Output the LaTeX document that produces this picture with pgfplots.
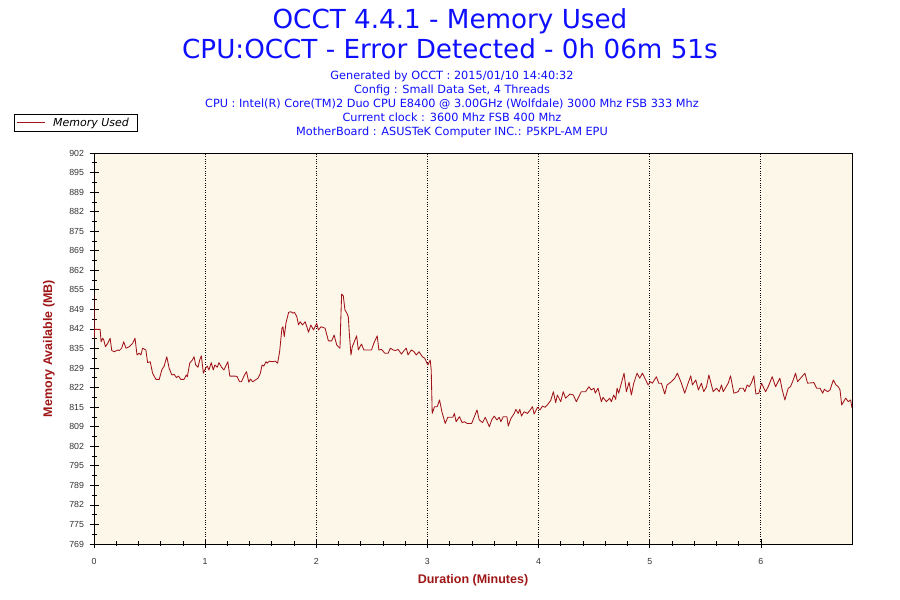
\documentclass[border=0pt]{standalone}
\usepackage{fontspec}
\setmainfont{DejaVu Sans}
\newfontfamily\lib{Liberation Sans}
\usepackage{pgfplots}
\pgfplotsset{compat=1.18}
\usepackage{pgfplotstable}
\definecolor{ttlblue}{RGB}{15,15,255}
\definecolor{lblred}{RGB}{158,22,22}
\definecolor{linered}{RGB}{160,20,25}
\definecolor{plotbg}{RGB}{253,247,234}
\pgfplotstableread{
m v
0.000 854.0
0.002 839.0
0.005 842.0
0.055 842.0
0.064 837.8
0.079 839.0
0.088 838.4
0.103 836.1
0.124 837.3
0.145 839.0
0.160 834.8
0.184 834.4
0.213 835.0
0.228 834.8
0.249 835.6
0.267 837.8
0.288 835.6
0.318 836.1
0.348 837.3
0.369 839.0
0.387 833.3
0.407 833.9
0.422 833.3
0.437 835.6
0.467 835.0
0.482 830.7
0.506 831.0
0.527 827.1
0.557 825.0
0.587 825.0
0.610 828.2
0.631 829.5
0.655 832.7
0.676 828.8
0.700 826.5
0.721 826.7
0.742 825.6
0.760 826.1
0.781 825.0
0.810 825.0
0.831 826.5
0.840 825.9
0.861 830.5
0.885 831.6
0.900 832.7
0.915 829.9
0.936 829.1
0.951 831.6
0.966 833.0
0.984 827.1
1.004 828.8
1.019 829.5
1.034 828.2
1.055 830.7
1.073 828.2
1.088 829.9
1.109 829.1
1.124 830.7
1.148 829.1
1.169 828.2
1.204 831.0
1.222 826.1
1.273 826.1
1.288 825.9
1.309 824.2
1.327 824.2
1.354 826.5
1.372 827.6
1.393 824.0
1.407 825.1
1.428 824.2
1.452 824.8
1.476 825.4
1.497 827.1
1.512 829.9
1.527 829.5
1.548 831.0
1.557 830.5
1.578 831.2
1.601 831.0
1.631 831.2
1.652 830.5
1.670 834.4
1.691 842.4
1.700 842.9
1.712 839.5
1.727 844.1
1.751 847.8
1.772 848.0
1.790 847.5
1.804 847.8
1.825 846.3
1.840 843.5
1.855 844.6
1.876 843.5
1.900 844.6
1.915 842.9
1.930 841.0
1.951 843.5
1.975 841.8
2.004 844.1
2.019 841.8
2.043 842.9
2.079 842.4
2.109 838.1
2.139 838.1
2.160 840.1
2.184 836.7
2.198 836.1
2.213 835.6
2.219 843.5
2.228 854.0
2.243 853.4
2.258 848.6
2.273 847.7
2.288 846.3
2.297 840.7
2.312 833.3
2.324 836.1
2.342 837.8
2.363 839.8
2.378 835.0
2.393 836.1
2.407 837.0
2.428 835.0
2.497 835.0
2.518 837.3
2.548 839.8
2.563 835.0
2.587 835.2
2.616 833.9
2.646 833.9
2.667 835.6
2.691 835.0
2.712 834.8
2.736 835.2
2.766 833.6
2.790 834.8
2.810 835.6
2.825 833.3
2.855 835.0
2.879 834.4
2.900 833.3
2.924 834.4
2.954 832.7
2.975 832.2
3.004 829.9
3.025 831.6
3.034 828.2
3.043 813.4
3.064 815.7
3.088 815.7
3.109 818.0
3.130 814.0
3.160 810.0
3.183 812.1
3.228 812.1
3.243 813.4
3.258 810.6
3.288 812.3
3.312 810.3
3.333 810.6
3.357 810.0
3.398 810.0
3.422 812.3
3.446 814.6
3.466 811.2
3.496 810.3
3.520 812.1
3.557 808.9
3.578 811.2
3.601 812.5
3.625 811.2
3.646 812.1
3.661 810.6
3.682 812.3
3.715 812.3
3.727 809.1
3.751 811.7
3.781 813.4
3.796 814.8
3.816 813.4
3.831 814.8
3.846 812.5
3.870 814.0
3.900 813.4
3.921 814.4
3.945 815.7
3.960 813.2
3.990 815.5
4.013 814.6
4.034 815.9
4.058 815.5
4.079 816.3
4.109 817.8
4.133 820.8
4.154 817.1
4.169 819.7
4.199 817.4
4.222 820.8
4.243 818.6
4.282 820.0
4.312 819.7
4.340 817.4
4.384 820.8
4.423 820.8
4.453 822.5
4.474 821.4
4.498 822.0
4.510 820.3
4.535 822.0
4.565 817.4
4.580 818.9
4.610 817.4
4.640 818.6
4.655 817.4
4.676 819.7
4.694 818.2
4.706 822.0
4.721 820.3
4.745 823.7
4.769 827.1
4.790 820.8
4.814 824.0
4.835 819.7
4.856 823.7
4.886 827.1
4.910 825.4
4.934 827.1
4.964 824.8
4.985 823.1
5.006 824.2
5.024 823.7
5.060 825.9
5.081 823.7
5.105 823.7
5.135 820.0
5.156 823.1
5.195 824.2
5.225 825.4
5.249 827.1
5.285 823.7
5.315 820.3
5.345 823.7
5.369 826.2
5.384 823.1
5.414 824.8
5.438 821.4
5.465 823.7
5.486 820.8
5.511 822.5
5.532 826.5
5.571 820.8
5.601 822.0
5.625 820.8
5.646 823.1
5.661 820.8
5.706 823.7
5.727 826.2
5.757 820.3
5.796 820.8
5.811 822.0
5.841 822.0
5.856 820.8
5.877 823.1
5.895 822.5
5.916 823.9
5.937 826.2
5.955 820.0
5.982 820.3
6.006 823.7
6.042 820.8
6.066 822.5
6.102 825.9
6.132 822.5
6.171 825.4
6.192 821.4
6.216 818.0
6.246 822.0
6.267 822.5
6.291 824.8
6.312 827.1
6.330 824.2
6.396 827.1
6.420 823.7
6.477 823.9
6.502 822.0
6.532 822.0
6.556 820.3
6.571 821.6
6.601 820.8
6.622 821.4
6.652 824.8
6.676 823.1
6.697 822.5
6.712 821.4
6.727 816.3
6.763 818.6
6.787 817.4
6.808 818.0
6.820 815.2
}\memtable
\begin{document}
\begin{tikzpicture}[x=1bp,y=1bp]
\path[use as bounding box, fill=white] (0,0) rectangle (900,600);
\node[anchor=base, text=ttlblue, font=\fontsize{26.2bp}{28bp}\selectfont] at (450,571) {OCCT 4.4.1 - Memory Used};
\node[anchor=base, text=ttlblue, font=\fontsize{26.2bp}{28bp}\selectfont] at (450,541) {CPU:OCCT - Error Detected - 0h 06m 51s};
\begin{scope}[every node/.style={anchor=base, text=ttlblue, font=\fontsize{11.3bp}{13bp}\selectfont, inner sep=0pt}]
\node at (452,520) {Generated by OCCT : 2015/01/10 14:40:32};
\node at (452,506) {Config : Small Data Set, 4 Threads};
\node at (452,492) {CPU : Intel(R) Core(TM)2 Duo CPU E8400 @ 3.00GHz (Wolfdale) 3000 Mhz FSB 333 Mhz};
\node at (452,478) {Current clock : 3600 Mhz FSB 400 Mhz};
\node at (452,464) {MotherBoard : ASUSTeK Computer INC.: P5KPL-AM EPU};
\end{scope}
\begin{axis}[
  at={(94bp,56bp)}, anchor=south west,
  scale only axis, width=758bp, height=391bp,
  xmin=0, xmax=6.82, ymin=769, ymax=902,
  axis background/.style={fill=plotbg},
  axis line style={black, line width=0.9pt},
  xtick={0,1,2,3,4,5,6},
  xticklabels={0,1,2,3,4,5,6},
  minor x tick num=4,
  ytick={769,775.65,782.3,788.95,795.6,802.25,808.9,815.55,822.2,828.85,835.5,842.15,848.8,855.45,862.1,868.75,875.4,882.05,888.7,895.35,902},
  yticklabels={769,775,782,789,795,802,809,815,822,829,835,842,849,855,862,869,875,882,889,895,902},
  minor y tick num=1,
  xtick pos=bottom, ytick pos=left,
  tick align=center,
  major tick length=9bp, minor tick length=5bp,
  tick style={black, line width=0.7pt},
  xmajorgrids, major grid style={black, dotted, line width=0.8pt},
  ticklabel style={font=\lib\fontsize{8.8bp}{10bp}\selectfont, text=black!80},
  yticklabel style={xshift=-2bp},
  xticklabel style={yshift=-6bp},
  xlabel={\lib\bfseries Duration (Minutes)},
  ylabel={\lib\bfseries Memory Available (MB)},
  label style={text=lblred, font=\fontsize{12.5bp}{14bp}\selectfont},
  xlabel style={at={(axis description cs:0.5,0)}, anchor=base, yshift=-40bp},
  ylabel style={at={(axis description cs:0,0.5)}, anchor=base, yshift=42bp},
  legend style={at={(axis description cs:-0.1055,1.0997)}, anchor=north west,
    draw=black, line width=0.8pt, fill=white, inner xsep=2bp, inner ysep=1.5bp,
    font=\itshape\fontsize{11bp}{12.5bp}\selectfont, text=black,
    legend cell align=left},
  legend image code/.code={\draw[#1, line width=0.8pt] (0bp,0bp) -- (28bp,0bp);},
]
\addplot[linered, line width=0.85pt, line join=round] table[x=m, y=v] {\memtable};
\addlegendentry{\hspace*{6bp}Memory Used\hspace*{4bp}}
\end{axis}
\end{tikzpicture}
\end{document}
